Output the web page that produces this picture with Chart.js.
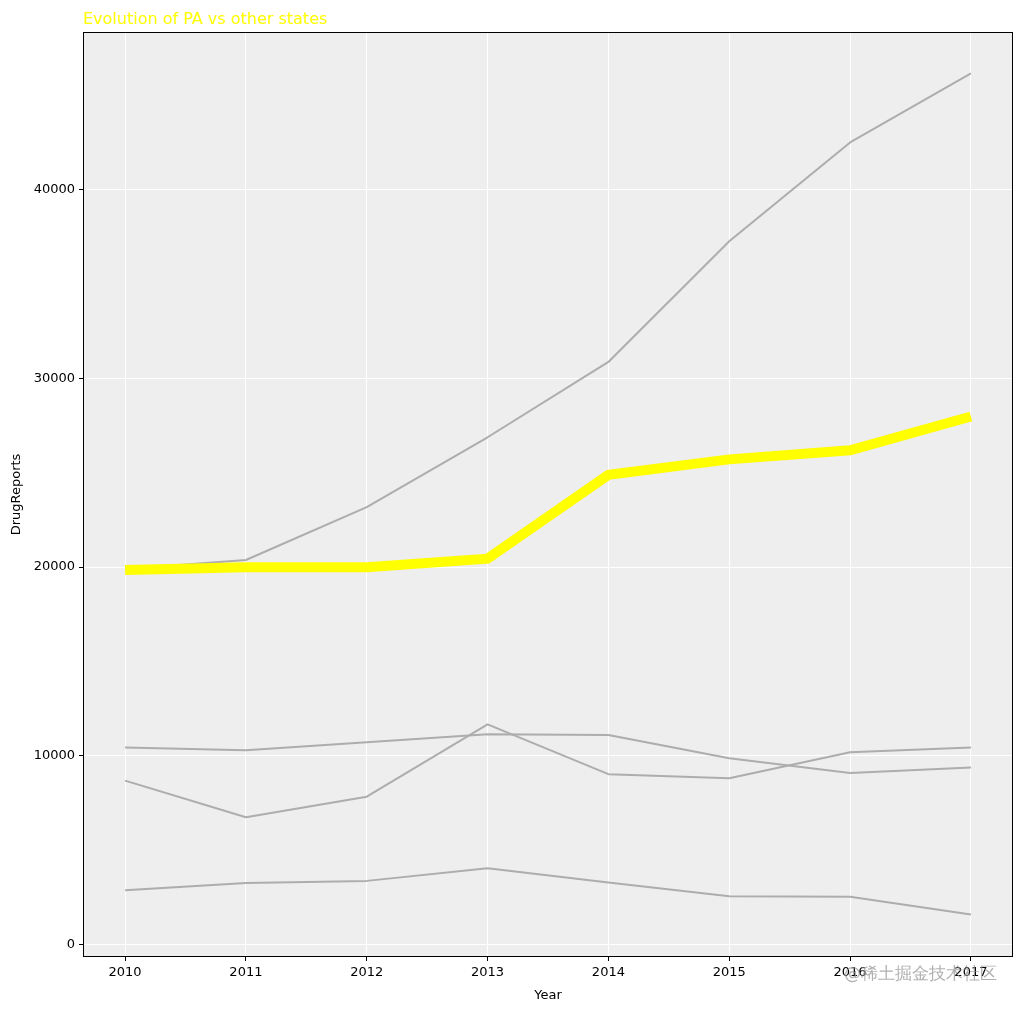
<!DOCTYPE html>
<html>
<head>
<meta charset="utf-8">
<script src="https://cdn.jsdelivr.net/npm/chart.js@4/dist/chart.umd.min.js"></script>
<style>
html,body{margin:0;padding:0;background:#fff;}
#wrap{width:1023px;height:1009px;position:relative;}
</style>
</head>
<body>
<div id="wrap"><canvas id="c" width="1023" height="1009"></canvas></div>
<script>
const years = [2010, 2011, 2012, 2013, 2014, 2015, 2016, 2017];
const statePA = [19840, 19990, 19990, 20440, 24880, 25700, 26180, 27970];
const stateTop = [19900, 20370, 23170, 26870, 30860, 37250, 42480, 46140];
const stateA = [10440, 10300, 10720, 11150, 11100, 9870, 9090, 9380];
const stateB = [8690, 6750, 7840, 11670, 9030, 8810, 10190, 10440];
const stateC = [2880, 3270, 3380, 4050, 3290, 2560, 2540, 1600];
const yTicks = [0, 10000, 20000, 30000, 40000];
const titleText = 'Evolution of PA vs other states';
const xTitle = 'Year';
const yTitle = 'DrugReports';
const watermark = '@稀土掘金技术社区';

const FONT = "'DejaVu Sans', sans-serif";
const pts = arr => years.map((y, i) => ({x: y, y: arr[i]}));
const grayDs = (label, arr) => ({
  label, data: pts(arr), borderColor: '#adadad', borderWidth: 2,
  pointRadius: 0, tension: 0, order: 1, borderJoinStyle: 'round'
});

const bgPlugin = {
  id: 'bg',
  beforeDraw(chart) {
    const {ctx, chartArea: a} = chart;
    ctx.save();
    ctx.fillStyle = '#eeeeee';
    ctx.fillRect(a.left, a.top, a.right - a.left, a.bottom - a.top);
    ctx.restore();
  },
  afterDraw(chart) {
    const {ctx, chartArea: a} = chart;
    ctx.save();
    ctx.strokeStyle = '#000';
    ctx.lineWidth = 1;
    ctx.strokeRect(Math.round(a.left) - 0.5, Math.round(a.top) - 0.5,
      Math.round(a.right - a.left) + 1, Math.round(a.bottom - a.top) + 1);
    ctx.fillStyle = '#ffff00';
    ctx.font = '16px ' + FONT;
    ctx.textAlign = 'left';
    ctx.textBaseline = 'alphabetic';
    ctx.fillText(titleText, a.left - 1, 24);
    ctx.fillStyle = 'rgba(150,150,150,0.75)';
    ctx.font = '17px ' + FONT;
    ctx.textAlign = 'right';
    ctx.fillText(watermark, 997, 979);
    ctx.restore();
  }
};

new Chart(document.getElementById('c'), {
  type: 'line',
  data: {
    datasets: [
      {label: 'PA', data: pts(statePA), borderColor: '#ffff00', borderWidth: 10,
       pointRadius: 0, tension: 0, order: 0, borderJoinStyle: 'miter', borderCapStyle: 'butt'},
      grayDs('S1', stateTop),
      grayDs('S2', stateA),
      grayDs('S3', stateB),
      grayDs('S4', stateC)
    ]
  },
  options: {
    responsive: false,
    animation: false,
    layout: {padding: {top: 33, right: 11, left: 5, bottom: 0}},
    plugins: {legend: {display: false}, tooltip: {enabled: false}, title: {display: false}},
    scales: {
      x: {
        type: 'linear', min: 2009.66, max: 2017.34,
        afterBuildTicks: s => { s.ticks = years.map(v => ({value: v})); },
        afterFit: s => { s.height = 53; },
        ticks: {color: '#000', font: {family: FONT, size: 13}, padding: 4,
                callback: v => String(v), maxRotation: 0, autoSkip: false},
        grid: {color: '#ffffff', lineWidth: 1, tickColor: '#000', tickLength: 5, drawTicks: true},
        border: {display: false},
        title: {display: true, text: xTitle, color: '#000', font: {family: FONT, size: 13}, padding: {top: 6, bottom: 6}}
      },
      y: {
        type: 'linear', min: -598, max: 48277,
        afterBuildTicks: s => { s.ticks = yTicks.map(v => ({value: v})); },
        afterFit: s => { s.width = 79; },
        ticks: {color: '#000', font: {family: FONT, size: 13}, padding: 4,
                callback: v => String(v)},
        grid: {color: '#ffffff', lineWidth: 1, tickColor: '#000', tickLength: 5, drawTicks: true},
        border: {display: false},
        title: {display: true, text: yTitle, color: '#000', font: {family: FONT, size: 13}, padding: {top: 4, bottom: 4}}
      }
    }
  },
  plugins: [bgPlugin]
});
</script>
</body>
</html>
